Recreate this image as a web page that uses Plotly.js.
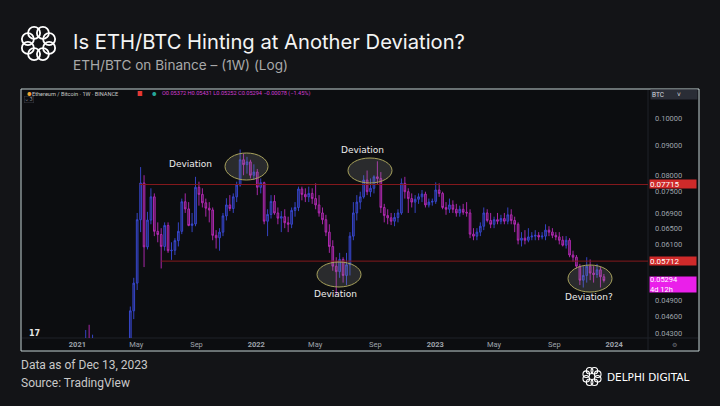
<!DOCTYPE html>
<html><head><meta charset="utf-8">
<script src="https://cdn.plot.ly/plotly-3.0.1.min.js"></script>
<style>html,body{margin:0;padding:0;background:#131417;}#chart{width:720px;height:406px;}</style>
</head><body><div id="chart"></div>
<script>
// ---------- data (weekly ETH/BTC, Binance) ----------
const weeks = [
'2021-01-04','2021-01-11','2021-01-18','2021-01-25','2021-02-01','2021-02-08','2021-02-15','2021-02-22','2021-03-01','2021-03-08',
'2021-03-15','2021-03-22','2021-03-29','2021-04-05','2021-04-12','2021-04-19','2021-04-26','2021-05-03','2021-05-10','2021-05-17',
'2021-05-24','2021-05-31','2021-06-07','2021-06-14','2021-06-21','2021-06-28','2021-07-05','2021-07-12','2021-07-19','2021-07-26',
'2021-08-02','2021-08-09','2021-08-16','2021-08-23','2021-08-30','2021-09-06','2021-09-13','2021-09-20','2021-09-27','2021-10-04',
'2021-10-11','2021-10-18','2021-10-25','2021-11-01','2021-11-08','2021-11-15','2021-11-22','2021-11-29','2021-12-06','2021-12-13',
'2021-12-20','2021-12-27','2022-01-03','2022-01-10','2022-01-17','2022-01-24','2022-01-31','2022-02-07','2022-02-14','2022-02-21',
'2022-02-28','2022-03-07','2022-03-14','2022-03-21','2022-03-28','2022-04-04','2022-04-11','2022-04-18','2022-04-25','2022-05-02',
'2022-05-09','2022-05-16','2022-05-23','2022-05-30','2022-06-06','2022-06-13','2022-06-20','2022-06-27','2022-07-04','2022-07-11',
'2022-07-18','2022-07-25','2022-08-01','2022-08-08','2022-08-15','2022-08-22','2022-08-29','2022-09-05','2022-09-12','2022-09-19',
'2022-09-26','2022-10-03','2022-10-10','2022-10-17','2022-10-24','2022-10-31','2022-11-07','2022-11-14','2022-11-21','2022-11-28',
'2022-12-05','2022-12-12','2022-12-19','2022-12-26','2023-01-02','2023-01-09','2023-01-16','2023-01-23','2023-01-30','2023-02-06',
'2023-02-13','2023-02-20','2023-02-27','2023-03-06','2023-03-13','2023-03-20','2023-03-27','2023-04-03','2023-04-10','2023-04-17',
'2023-04-24','2023-05-01','2023-05-08','2023-05-15','2023-05-22','2023-05-29','2023-06-05','2023-06-12','2023-06-19','2023-06-26',
'2023-07-03','2023-07-10','2023-07-17','2023-07-24','2023-07-31','2023-08-07','2023-08-14','2023-08-21','2023-08-28','2023-09-04',
'2023-09-11','2023-09-18','2023-09-25','2023-10-02','2023-10-09','2023-10-16','2023-10-23','2023-10-30','2023-11-06','2023-11-13',
'2023-11-20','2023-11-27','2023-12-04','2023-12-11'];

const open = [0.0252,0.0318,0.0345,0.0400,0.0398,0.0405,0.0385,0.0345,0.0318,0.0335,
0.0310,0.0308,0.0305,0.0358,0.0360,0.0395,0.0470,0.0524,0.0672,0.0776,
0.0604,0.0671,0.0735,0.0642,0.0634,0.0605,0.0657,0.0595,0.0596,0.0619,
0.0642,0.0721,0.0701,0.0657,0.0661,0.0763,0.0742,0.0718,0.0703,0.0698,
0.0632,0.0626,0.0640,0.0682,0.0712,0.0702,0.0735,0.0770,0.0850,0.0834,
0.0843,0.0800,0.0810,0.0763,0.0777,0.0668,0.0686,0.0722,0.0690,0.0676,
0.0680,0.0664,0.0660,0.0697,0.0705,0.0758,0.0742,0.0735,0.0745,0.0730,
0.0712,0.0690,0.0672,0.0640,0.0605,0.0560,0.0548,0.0575,0.0540,0.0563,
0.0630,0.0690,0.0720,0.0735,0.0785,0.0750,0.0760,0.0795,0.0790,0.0705,
0.0683,0.0677,0.0668,0.0678,0.0690,0.0775,0.0750,0.0730,0.0720,0.0728,
0.0735,0.0743,0.0712,0.0720,0.0722,0.0755,0.0745,0.0705,0.0700,0.0712,
0.0700,0.0690,0.0700,0.0692,0.0690,0.0635,0.0630,0.0640,0.0655,0.0690,
0.0670,0.0660,0.0672,0.0668,0.0675,0.0668,0.0685,0.0670,0.0660,0.0620,
0.0625,0.0620,0.0628,0.0630,0.0632,0.0628,0.0630,0.0645,0.0640,0.0632,
0.0628,0.0620,0.0608,0.0620,0.0585,0.0580,0.0560,0.0530,0.0540,0.0560,
0.0545,0.0542,0.0552,0.05372];

const high = [0.0345,0.0370,0.0436,0.0445,0.0428,0.0415,0.0395,0.0360,0.0348,0.0340,
0.0325,0.0322,0.0365,0.0380,0.0405,0.0478,0.0535,0.0690,0.0826,0.0800,
0.0693,0.0760,0.0745,0.0665,0.0650,0.0665,0.0665,0.0615,0.0625,0.0665,
0.0730,0.0745,0.0720,0.0690,0.0795,0.0780,0.0760,0.0730,0.0720,0.0705,
0.0645,0.0650,0.0690,0.0731,0.0740,0.0745,0.0780,0.0885,0.0870,0.0860,
0.0850,0.0835,0.0820,0.0790,0.0780,0.0700,0.0740,0.0740,0.0705,0.0695,
0.0700,0.0680,0.0705,0.0720,0.0765,0.0765,0.0760,0.0765,0.0760,0.0775,
0.0740,0.0705,0.0685,0.0660,0.0620,0.0580,0.0590,0.0580,0.0590,0.0640,
0.0720,0.0740,0.0750,0.0800,0.0815,0.0790,0.0800,0.0845,0.0810,0.0715,
0.0700,0.0690,0.0690,0.0700,0.0790,0.0795,0.0760,0.0745,0.0740,0.0745,
0.0755,0.0750,0.0730,0.0730,0.0778,0.0775,0.0750,0.0720,0.0730,0.0725,
0.0715,0.0710,0.0715,0.0720,0.0700,0.0650,0.0650,0.0665,0.0705,0.0700,
0.0690,0.0680,0.0690,0.0685,0.0690,0.0705,0.0700,0.0680,0.0665,0.0640,
0.0645,0.0650,0.0640,0.0645,0.0640,0.0640,0.0660,0.0655,0.0650,0.0640,
0.0640,0.0630,0.0630,0.0625,0.0595,0.0585,0.0565,0.0560,0.0580,0.0575,
0.0560,0.0565,0.0558,0.05431];

const low = [0.0240,0.0290,0.0335,0.0370,0.0385,0.0375,0.0330,0.0300,0.0305,0.0300,
0.0300,0.0295,0.0300,0.0345,0.0345,0.0370,0.0455,0.0510,0.0640,0.0558,
0.0598,0.0660,0.0630,0.0615,0.0555,0.0595,0.0590,0.0574,0.0585,0.0605,
0.0635,0.0690,0.0655,0.0640,0.0655,0.0710,0.0705,0.0680,0.0665,0.0620,
0.0600,0.0595,0.0630,0.0670,0.0695,0.0690,0.0720,0.0765,0.0800,0.0805,
0.0790,0.0785,0.0740,0.0745,0.0660,0.0630,0.0675,0.0685,0.0660,0.0640,
0.0650,0.0640,0.0650,0.0680,0.0695,0.0725,0.0720,0.0720,0.0715,0.0700,
0.0680,0.0660,0.0630,0.0590,0.0550,0.0500,0.0535,0.0525,0.0520,0.0540,
0.0620,0.0670,0.0700,0.0730,0.0740,0.0735,0.0745,0.0770,0.0690,0.0665,
0.0660,0.0658,0.0655,0.0665,0.0685,0.0730,0.0690,0.0705,0.0690,0.0715,
0.0720,0.0705,0.0705,0.0710,0.0715,0.0735,0.0700,0.0685,0.0690,0.0690,
0.0680,0.0680,0.0685,0.0680,0.0625,0.0620,0.0620,0.0630,0.0645,0.0665,
0.0650,0.0650,0.0660,0.0660,0.0660,0.0660,0.0660,0.0640,0.0610,0.0605,
0.0610,0.0615,0.0620,0.0620,0.0620,0.0622,0.0620,0.0630,0.0625,0.0620,
0.0610,0.0605,0.0600,0.0580,0.0570,0.0555,0.0520,0.0515,0.0525,0.0530,
0.0525,0.0535,0.0515,0.05252];

const close = [0.0318,0.0345,0.0400,0.0398,0.0405,0.0385,0.0345,0.0318,0.0335,0.0310,
0.0308,0.0305,0.0358,0.0360,0.0395,0.0470,0.0524,0.0672,0.0776,0.0604,
0.0671,0.0735,0.0642,0.0634,0.0605,0.0657,0.0595,0.0596,0.0619,0.0642,
0.0721,0.0701,0.0657,0.0661,0.0763,0.0742,0.0718,0.0703,0.0698,0.0632,
0.0626,0.0640,0.0682,0.0712,0.0702,0.0735,0.0770,0.0850,0.0834,0.0843,
0.0800,0.0810,0.0763,0.0777,0.0668,0.0686,0.0722,0.0690,0.0676,0.0680,
0.0664,0.0660,0.0697,0.0705,0.0758,0.0742,0.0735,0.0745,0.0730,0.0712,
0.0690,0.0672,0.0640,0.0605,0.0560,0.0548,0.0575,0.0540,0.0563,0.0630,
0.0690,0.0720,0.0735,0.0785,0.0750,0.0760,0.0795,0.0790,0.0705,0.0683,
0.0677,0.0668,0.0678,0.0690,0.0775,0.0750,0.0730,0.0720,0.0728,0.0735,
0.0743,0.0712,0.0720,0.0722,0.0755,0.0745,0.0705,0.0700,0.0712,0.0700,
0.0690,0.0700,0.0692,0.0690,0.0635,0.0630,0.0640,0.0655,0.0690,0.0670,
0.0660,0.0672,0.0668,0.0675,0.0668,0.0685,0.0670,0.0660,0.0620,0.0625,
0.0620,0.0628,0.0630,0.0632,0.0628,0.0630,0.0645,0.0640,0.0632,0.0628,
0.0620,0.0608,0.0620,0.0585,0.0580,0.0560,0.0530,0.0540,0.0560,0.0545,
0.0542,0.0552,0.05372,0.05294];

const levels = [0.07715, 0.05712];
const levelStarts = ['2021-05-08', '2021-06-21'];
const lastPriceText = '0.05294';
const countdownText = '4d 12h';
const yTickVals = [0.043, 0.046, 0.049, 0.061, 0.065, 0.069, 0.075, 0.08, 0.09, 0.1];
const yTickText = ['0.04300','0.04600','0.04900','0.06100','0.06500','0.06900','0.07500','0.08000','0.09000','0.10000'];
const xTickVals = ['2021-01-01','2021-05-01','2021-09-01','2022-01-01','2022-05-01','2022-09-01','2023-01-01','2023-05-01','2023-09-01','2024-01-01'];
const xTickText = ['<b>2021</b>','May','Sep','<b>2022</b>','May','Sep','<b>2023</b>','May','Sep','<b>2024</b>'];
const legendText = 'O0.05372 H0.05431 L0.05252 C0.05294 \u22120.00078 (\u22121.45%)';

// ---------- layout helpers (pixel -> paper) ----------
const W = 720, H = 406, L = 21, R = 648, T = 89, B = 338;
const PX = x => (x - L) / (R - L);
const PY = y => (B - y) / (B - T);

const shapes = [];
shapes.push({type:'rect', xref:'paper', yref:'paper', x0:PX(21), x1:PX(699), y0:PY(351), y1:PY(89),
  fillcolor:'#0c0d10', line:{color:'#c3d2d3', width:1}, layer:'below'});
shapes.push({type:'line', xref:'paper', yref:'paper', x0:PX(648), x1:PX(648), y0:PY(350), y1:PY(90),
  line:{color:'#1f2228', width:1}, layer:'below'});
shapes.push({type:'line', xref:'paper', yref:'paper', x0:PX(22), x1:PX(698), y0:PY(338), y1:PY(338),
  line:{color:'#1f2228', width:1}, layer:'below'});

function ellipse(cx, cy, rx, ry) {
  shapes.push({type:'circle', xref:'paper', yref:'paper', x0:PX(cx-rx), x1:PX(cx+rx), y0:PY(cy+ry), y1:PY(cy-ry),
    fillcolor:'rgba(150,150,150,0.22)', line:{color:'#a8a25c', width:1}});
}
ellipse(246.5, 166.5, 21.5, 13.5);
ellipse(370, 170.5, 22, 12.5);
ellipse(339, 274.5, 22, 12.5);
ellipse(590, 278.5, 22, 13.5);

function logo(cx, cy, dist, r, w) {
  for (let k = 0; k < 8; k++) {
    const a = k * Math.PI / 4 + Math.PI / 8;
    const x = cx + dist * Math.cos(a), y = cy + dist * Math.sin(a);
    shapes.push({type:'circle', xref:'paper', yref:'paper', x0:PX(x-r), x1:PX(x+r), y0:PY(y+r), y1:PY(y-r),
      line:{color:'#ffffff', width:w}, fillcolor:'rgba(0,0,0,0)'});
  }
}
logo(38.5, 43.5, 11.5, 6, 1.8);
logo(592, 376.5, 6.2, 3.3, 1.1);

const ann = [];
function txt(x, y, text, size, color, opts) {
  ann.push(Object.assign({xref:'paper', yref:'paper', x:PX(x), y:PY(y), text:text, showarrow:false,
    xanchor:'left', yanchor:'middle', font:{size:size, color:color, family:'Inter, "Open Sans", sans-serif'}}, opts || {}));
}
txt(71, 41.5, 'Is ETH/BTC Hinting at Another Deviation?', 20.2, '#f4f4f4');
txt(71, 65, 'ETH/BTC on Binance \u2013 (1W) (Log)', 13.6, '#a9a9a9');
const footFont = {size:12, color:'#c9c9c9', family:'Roboto, sans-serif'};
txt(19, 365, 'Data as of Dec 13, 2023', 12, '#c9c9c9', {font:footFont});
txt(19, 383, 'Source: TradingView', 12, '#c9c9c9', {font:footFont});
txt(605, 377, 'DELPHI DIGITAL', 10, '#ffffff', {font:{size:10.5, color:'#ffffff', family:'"DejaVu Sans", sans-serif'}});

txt(25, 93.5, '\u25CF', 5, '#f0a030');
txt(30, 93.5, 'Ethereum / Bitcoin \u00B7 1W \u00B7 BINANCE', 5.5, '#c9c9c9', {font:{size:5.6, color:'#c9c9c9', family:'Roboto, sans-serif'}});
txt(135, 93.5, '\u25A0', 6, '#e53935');
txt(150, 93.5, '\u25CF', 5, '#26a69a');
txt(160, 93.5, legendText, 5.5, '#d13cd1', {font:{size:5.6, color:'#d13cd1', family:'Roboto, sans-serif'}});
txt(24, 99.5, '\u2304 3', 4.5, '#9aa0a8', {bordercolor:'#3a3d45', borderwidth:0.5, borderpad:0.5});

const devFont = {size:9, color:'#ececec', family:'"DejaVu Sans", sans-serif'};
function dev(x, y, t) {
  ann.push({xref:'paper', yref:'paper', x:PX(x), y:PY(y), xanchor:'center', yanchor:'middle', text:t, showarrow:false, font:devFont});
}
dev(190.5, 163.5, 'Deviation');
dev(362.5, 150, 'Deviation');
dev(335, 293.5, 'Deviation');
dev(589, 296.5, 'Deviation?');

ann.push({xref:'paper', yref:'paper', x:PX(650), y:PY(94), xanchor:'left', yanchor:'middle', text:'BTC        \u02C5',
  showarrow:false, bgcolor:'#2a2d36', width:44, height:7, align:'left', font:{size:6.5, color:'#d5d8de', family:'Roboto, sans-serif'}});
levels.forEach(v => {
  ann.push({xref:'paper', yref:'y', x:PX(649), y:Math.log10(v), xanchor:'left', yanchor:'middle', text:v.toFixed(5),
    showarrow:false, bgcolor:'#cf2a2a', width:46, height:8, align:'left', borderpad:0,
    font:{size:8, color:'#ffffff', family:'Roboto, sans-serif'}});
});
ann.push({xref:'paper', yref:'paper', x:PX(649), y:PY(284.5), xanchor:'left', yanchor:'middle',
  text:lastPriceText + '<br>' + countdownText, showarrow:false, bgcolor:'#ea1fea', width:46, height:15, align:'left',
  borderpad:0, font:{size:7.5, color:'#ffffff', family:'Roboto, sans-serif'}});
txt(670, 344, '\u2699', 6, '#6c7079');
txt(27, 333, '<b>17</b>', 8, '#e6e6e6', {font:{size:8, color:'#e6e6e6', family:'"DejaVu Sans", sans-serif'}});

const traces = [];
levels.forEach((v, k) => {
  traces.push({type:'scatter', mode:'lines', x:[levelStarts[k], '2024-06-01'], y:[v, v],
    line:{color:'#85191d', width:1}, hoverinfo:'skip'});
});
traces.push({type:'candlestick', x:weeks, open:open, high:high, low:low, close:close,
  increasing:{line:{color:'#3a4ad6', width:0.9}, fillcolor:'rgba(58,74,214,0.4)'},
  decreasing:{line:{color:'#b82ab8', width:0.9}, fillcolor:'rgba(184,42,184,0.4)'},
  whiskerwidth:0, hoverinfo:'skip'});

const layout = {
  width:W, height:H, showlegend:false,
  margin:{l:L, r:W-R, t:T, b:H-B, pad:0},
  paper_bgcolor:'#131417', plot_bgcolor:'rgba(0,0,0,0)',
  font:{family:'Roboto, sans-serif', color:'#9ea3ab'},
  xaxis:{type:'date', range:['2020-09-08','2024-03-10'], rangeslider:{visible:false},
    tickvals:xTickVals, ticktext:xTickText, tickfont:{size:7.5, color:'#9ea3ab'},
    showgrid:false, zeroline:false, showline:false, ticks:'', fixedrange:true},
  yaxis:{type:'log', side:'right', range:[Math.log10(0.04225), Math.log10(0.1122)],
    tickvals:yTickVals, ticktext:yTickText, tickfont:{size:7.5, color:'#9ea3ab'},
    showgrid:false, zeroline:false, showline:false, ticks:'', ticklabelstandoff:6, fixedrange:true},
  shapes:shapes, annotations:ann
};
Plotly.newPlot('chart', traces, layout, {staticPlot:true, displayModeBar:false});
</script></body></html>
